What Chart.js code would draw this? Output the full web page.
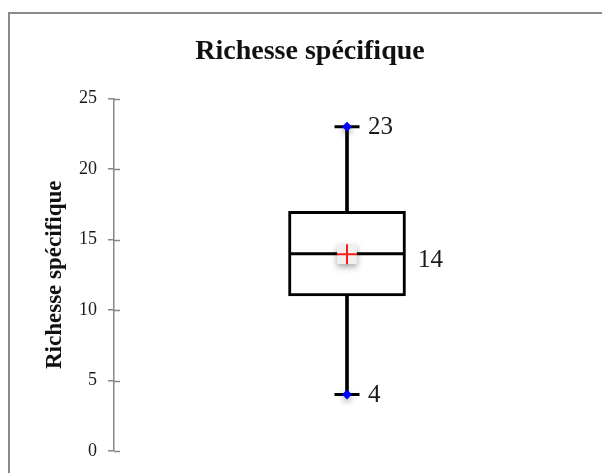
<!DOCTYPE html>
<html>
<head>
<meta charset="utf-8">
<script src="https://cdn.jsdelivr.net/npm/chart.js@4.4.1/dist/chart.umd.min.js"></script>
<style>
  html, body { margin: 0; padding: 0; background: #fff; overflow: hidden; }
  #frame {
    position: absolute; left: 8px; top: 12px; width: 600px; height: 470px;
    border-left: 2px solid #8a8a8a; border-top: 2px solid #8a8a8a;
  }
  canvas { display: block; }
</style>
</head>
<body>
<div id="frame"><canvas id="chart" width="600" height="470"></canvas></div>
<script>
// Data
const categories = [""];
const minValues = [4];
const q1Values = [11];
const medianValues = [14];
const q3Values = [17];
const maxValues = [23];
const meanValues = [13.96];
const yTicks = [0, 5, 10, 15, 20, 25];
const chartTitle = "Richesse spécifique";
const yTitle = "Richesse spécifique";

const SERIF = "'Liberation Serif', 'DejaVu Serif', serif";
const AXIS_GREY = "#878787";

// inner half of the crossing tick marks + value labels + soft shadows
const boxExtras = {
  id: "boxExtras",
  beforeDatasetDraw(chart, args) {
    const ds = chart.data.datasets[args.index];
    if (ds.shadow) {
      const ctx = chart.ctx;
      ctx.save();
      ctx.shadowColor = "rgba(0,0,0,0.35)";
      ctx.shadowBlur = 6;
      ctx.shadowOffsetY = 3;
    }
  },
  afterDatasetDraw(chart, args) {
    const ds = chart.data.datasets[args.index];
    if (ds.shadow) chart.ctx.restore();
  },
  afterDraw(chart) {
    const { ctx } = chart;
    const y = chart.scales.y;
    const x = chart.scales.x;
    ctx.save();
    ctx.strokeStyle = AXIS_GREY;
    ctx.lineWidth = 1.5;
    yTicks.forEach((v) => {
      const py = Math.round(y.getPixelForValue(v)) + 0.5;
      ctx.beginPath();
      ctx.moveTo(y.right, py);
      ctx.lineTo(y.right + 6, py);
      ctx.stroke();
    });

    ctx.fillStyle = "#1a1a1a";
    ctx.font = "25px " + SERIF;
    ctx.textBaseline = "middle";
    ctx.textAlign = "left";
    categories.forEach((c, i) => {
      const cx = x.getPixelForValue(i);
      ctx.fillText(String(maxValues[i]), cx + 21, y.getPixelForValue(maxValues[i]) + 1);
      ctx.fillText(String(medianValues[i]), cx + 71, y.getPixelForValue(medianValues[i]) + 7);
      ctx.fillText(String(minValues[i]), cx + 21, y.getPixelForValue(minValues[i]) + 1);
    });
    ctx.restore();
  }
};

const ctx = document.getElementById("chart").getContext("2d");
new Chart(ctx, {
  type: "bar",
  data: {
    labels: categories,
    datasets: [
      {
        type: "line", label: "mean", data: meanValues, showLine: false, order: 0,
        pointStyle: "cross", pointRadius: 10, pointBorderWidth: 2,
        pointBorderColor: "#ff1a1a", pointHoverRadius: 10
      },
      {
        type: "line", label: "mean bg", data: meanValues, showLine: false, order: 1, shadow: true,
        pointStyle: "rect", pointRadius: 14, pointBorderWidth: 0,
        pointBackgroundColor: "#f0f0f0", pointBorderColor: "#f0f0f0"
      },
      {
        type: "line", label: "max", data: maxValues, showLine: false, order: 2, shadow: true,
        pointStyle: "rectRot", pointRadius: 5, pointBorderWidth: 0,
        pointBackgroundColor: "#0000ff", pointBorderColor: "#0000ff"
      },
      {
        type: "line", label: "min", data: minValues, showLine: false, order: 3, shadow: true,
        pointStyle: "rectRot", pointRadius: 5, pointBorderWidth: 0,
        pointBackgroundColor: "#0000ff", pointBorderColor: "#0000ff"
      },
      {
        type: "line", label: "cap max", data: maxValues, showLine: false, order: 4,
        pointStyle: "line", pointRadius: 12.5, pointBorderWidth: 3, pointBorderColor: "#000"
      },
      {
        type: "line", label: "cap min", data: minValues, showLine: false, order: 5,
        pointStyle: "line", pointRadius: 12.5, pointBorderWidth: 3, pointBorderColor: "#000"
      },
      {
        type: "line", label: "median", data: medianValues, showLine: false, order: 6,
        pointStyle: "line", pointRadius: 57, pointBorderWidth: 3, pointBorderColor: "#000"
      },
      {
        label: "box", order: 7, grouped: false,
        data: categories.map((c, i) => [q1Values[i], q3Values[i]]),
        backgroundColor: "#fff", borderColor: "#000", borderWidth: 3,
        borderSkipped: false, barThickness: 117
      },
      {
        label: "whisker up", order: 8, grouped: false,
        data: categories.map((c, i) => [q3Values[i], maxValues[i]]),
        backgroundColor: "#000", borderWidth: 0, barThickness: 3
      },
      {
        label: "whisker down", order: 9, grouped: false,
        data: categories.map((c, i) => [minValues[i], q1Values[i]]),
        backgroundColor: "#000", borderWidth: 0, barThickness: 3
      }
    ]
  },
  options: {
    responsive: false,
    animation: false,
    events: [],
    layout: { autoPadding: false, padding: { left: 30, right: 30, top: 0, bottom: 33 } },
    plugins: {
      legend: { display: false },
      tooltip: { enabled: false },
      title: {
        display: true,
        text: chartTitle,
        color: "#111",
        font: { family: SERIF, size: 28, weight: "bold" },
        padding: { top: 21, bottom: 30 }
      }
    },
    scales: {
      x: { display: false },
      y: {
        min: 0, max: 25,
        afterBuildTicks: (scale) => { scale.ticks = yTicks.map((v) => ({ value: v })); },
        afterFit: (scale) => { scale.width = 74; },
        grid: { drawOnChartArea: false, tickLength: 6, color: AXIS_GREY, lineWidth: 1.5 },
        border: { color: AXIS_GREY, width: 1.5 },
        ticks: { color: "#1a1a1a", padding: 11, font: { family: SERIF, size: 18 } },
        title: {
          display: true, text: yTitle, color: "#111",
          font: { family: SERIF, size: 23, weight: "bold" },
          padding: { top: 1, bottom: 0 }
        }
      }
    }
  },
  plugins: [boxExtras]
});
</script>
</body>
</html>
